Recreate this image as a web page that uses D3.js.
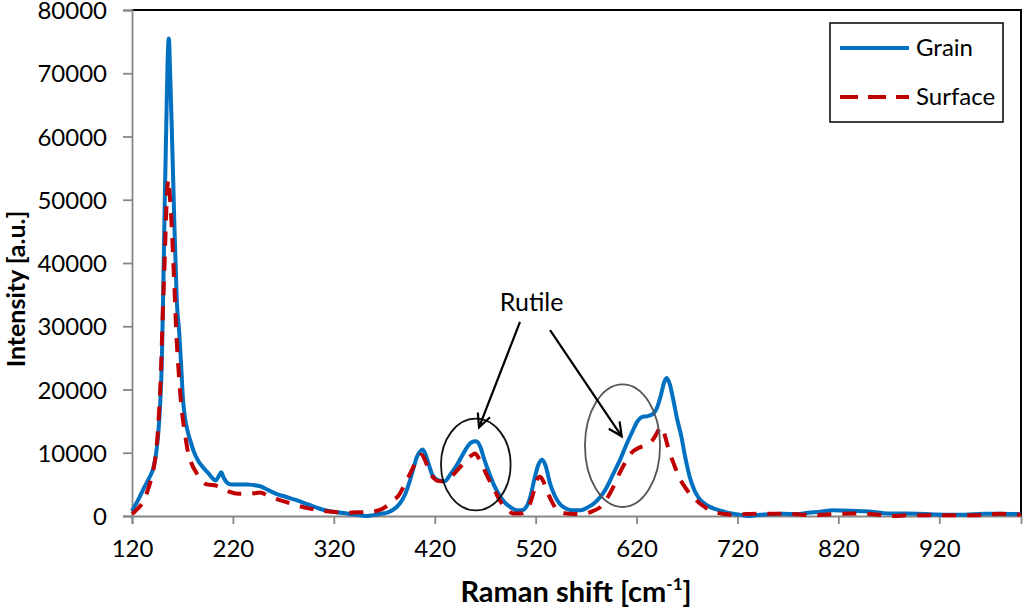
<!DOCTYPE html>
<html>
<head>
<meta charset="utf-8">
<script src="https://cdn.jsdelivr.net/npm/d3@7"></script>
<style>
  html, body { margin: 0; padding: 0; background: #fff; }
  svg { display: block; font-family: Lato, "Open Sans", sans-serif; }
</style>
</head>
<body>
<div id="chart"></div>
<script>
// ---- Data ------------------------------------------------------------------
const grainShift = [
  120, 126, 132, 137, 141, 144, 146, 148, 149.5, 151, 152.5, 154, 155.3, 156.5,
  157.8, 159.3, 161, 162, 163.2, 164.3, 166.9, 169, 170.5, 172.5, 175, 178, 181, 186, 191,
  196, 201, 203, 206, 208.5, 211, 214, 218, 225, 234, 240, 247, 255, 263, 273,
  283, 295, 306, 315, 323, 333, 343, 352, 360, 366, 372, 378, 385, 390, 395, 399,
  402.5, 406, 408, 411, 414, 418, 424, 430, 436, 441, 446, 451, 456, 461, 465,
  469, 474, 479, 484, 489, 495, 501, 506, 511, 515, 519, 523, 526.5, 530, 534,
  539, 544, 550, 557, 565, 571, 578, 584, 590, 597, 604, 610, 616, 621, 626, 631,
  636, 640, 644, 647.5, 650, 653, 656, 660, 664.5, 668, 672.5, 677, 681, 687,
  693, 700, 708, 716, 725, 732, 742, 755, 765, 778, 790, 800, 815, 825, 838, 850,
  865, 880, 898, 915, 931, 945, 964, 980, 1001
];
const grainIntensity = [
  800, 2500, 4500, 6000, 7500, 10000, 13000, 18000, 24000, 36000, 50000, 62000, 72000, 75500,
  70000, 62000, 52000, 46000, 40000, 34500, 28800, 23000, 18500, 15500, 13500, 11800, 10300, 8600, 7600,
  6700, 5800, 5600, 6300, 6900, 6000, 5300, 5000, 5000, 5000, 4900, 4700, 4100, 3500, 3000,
  2500, 1800, 1150, 800, 600, 400, 200, 0, 150, 350, 500, 900, 1900, 3200, 5400, 7600,
  9400, 10300, 10500, 9700, 8200, 6400, 5600, 5500, 6700, 7800, 9200, 10600, 11600, 11800, 11000,
  9000, 6800, 4800, 3300, 2200, 1400, 900, 900, 1500, 3200, 6000, 8200, 8900, 7900, 5300,
  3200, 1900, 1200, 900, 900, 1300, 2000, 3000, 4400, 6700, 9000, 11300, 13400, 15000, 15700, 15800,
  16100, 17000, 19000, 21200, 21800, 20800, 18700, 15500, 12500, 9500, 6300, 4200, 3000, 2000,
  1400, 1000, 600, 350, 150, 0, 200, 300, 350, 300, 500, 650, 900, 850, 800, 700,
  450, 400, 350, 250, 200, 200, 350, 350, 300
];

const surfaceShift = [
  120, 124, 130, 135, 140, 143, 145, 147, 148.5, 150.4, 152.7, 154.3, 156, 157.5,
  159.3, 161, 162.6, 164.2, 165.9, 168, 170, 172.5, 175, 178.5, 184, 189, 194, 200, 207, 212,
  217, 225, 234, 241, 247, 255, 263, 273, 283, 295, 306, 315, 323, 333, 343, 352,
  362, 370, 379, 384, 389, 394, 399, 403, 407, 411, 415.3, 419, 422, 427, 432, 438,
  445, 450, 455, 460, 464, 468, 473, 478, 482, 486.4, 492, 498, 505, 511, 515, 518,
  521, 524, 527, 530, 533, 537, 541, 547, 554, 562, 570, 577, 584, 590, 597, 603,
  610, 615, 620, 626, 630, 634, 638, 642, 645, 648, 651, 654, 658, 662, 667, 673,
  679, 686, 693, 700, 708, 716, 730, 742, 755, 769, 782, 795, 808, 822, 835, 848,
  862, 874, 888, 901, 915, 927, 941, 954, 967, 980, 990, 1001
];
const surfaceIntensity = [
  300, 900, 2000, 3800, 6500, 9000, 12000, 17000, 22000, 31500, 42000, 49500, 53200, 50500,
  46000, 40000, 34000, 28000, 23600, 19000, 15800, 13000, 10500, 8500, 6800, 5800, 5000, 4900, 4600, 4200,
  3800, 3500, 3500, 3600, 3700, 3200, 2700, 2200, 1700, 1200, 900, 700, 600, 500, 600, 600,
  800, 1300, 2500, 3200, 4600, 6200, 7800, 9000, 9700, 8600, 6800, 6000, 5600, 5500, 5800, 6500,
  7700, 8600, 9400, 9900, 9000, 7700, 6000, 4600, 3200, 2000, 1000, 400, 400, 900, 2200, 3800,
  5600, 6200, 5700, 4500, 3300, 2000, 900, 500, 350, 300, 400, 800, 1400, 2600, 4600, 6700,
  8800, 10000, 10600, 11000, 11200, 11600, 12500, 13600, 14100, 12800, 11000, 9500, 7800, 6200, 4800, 3500,
  2500, 1600, 900, 500, 300, 200, 300, 350, 350, 350, 250, 100, 250, 350, 400, 350,
  150, 0, 100, 100, 150, 100, 100, 100, 200, 350, 300, 200
];

const xTicks = [120, 220, 320, 420, 520, 620, 720, 820, 920];
const yTicks = [0, 10000, 20000, 30000, 40000, 50000, 60000, 70000, 80000];
const seriesNames = ["Grain", "Surface"];

// Annotation: "Rutile" label, arrows and ellipses in data units
const rutileLabel = { shift: 516, intensity: 32400, text: "Rutile" };
const rutileArrows = [
  { from: [504.5, 30700], to: [463.9, 14000] },
  { from: [534.3, 29400], to: [605.3, 12600] }
];
const rutileEllipses = [
  { shift: 460.7, intensity: 8130, rShift: 34.5, rInt: 7250, color: "#111" },
  { shift: 606.1, intensity: 11120, rShift: 37.2, rInt: 9700, color: "#555" }
];

// ---- Chart -----------------------------------------------------------------
const width = 1024, height = 611;
const margin = { top: 10, right: 3, bottom: 95, left: 132 };

const svg = d3.select("#chart").append("svg")
  .attr("width", width).attr("height", height)
  .attr("viewBox", `0 0 ${width} ${height}`);

const x = d3.scaleLinear()
  .domain([120, 1001])
  .range([margin.left, width - margin.right]);

const y = d3.scaleLinear()
  .domain([0, 80000])
  .range([height - margin.bottom, margin.top]);

const axisColor = "#868686";

// plot-area frame (top/right in black)
svg.append("path")
  .attr("d", `M${x.range()[0]},${y(80000)}H${x.range()[1]}V${y(0)}`)
  .attr("fill", "none").attr("stroke", "#000").attr("stroke-width", 2);

// axes
const xAxis = d3.axisBottom(x).tickValues(xTicks).tickSize(8).tickPadding(16).tickFormat(d3.format("d"));
const yAxis = d3.axisLeft(y).tickValues(yTicks).tickSize(9).tickPadding(16).tickFormat(d3.format("d"));

const gx = svg.append("g").attr("transform", `translate(0,${y(0)})`).call(xAxis);
const gy = svg.append("g").attr("transform", `translate(${x(120)},0)`).call(yAxis);

[gx, gy].forEach(g => {
  g.select(".domain").attr("stroke", axisColor).attr("stroke-width", 1.8);
  g.selectAll(".tick line").attr("stroke", axisColor).attr("stroke-width", 1.8);
  g.selectAll(".tick text")
    .attr("fill", "#000")
    .attr("font-size", 24)
    .attr("font-family", "Lato, 'Open Sans', sans-serif");
});
gy.selectAll(".tick text").attr("dy", "0.36em");

// series
const grain = grainShift.map((s, i) => ({ s, v: grainIntensity[i] }));
const surface = surfaceShift.map((s, i) => ({ s, v: surfaceIntensity[i] }));

const line = d3.line()
  .x(d => x(d.s))
  .y(d => y(d.v))
  .curve(d3.curveMonotoneX);

svg.append("path")
  .attr("d", line(grain))
  .attr("fill", "none")
  .attr("stroke", "#0070C0")
  .attr("stroke-width", 4)
  .attr("stroke-linejoin", "round");

svg.append("path")
  .attr("d", line(surface))
  .attr("fill", "none")
  .attr("stroke", "#C00000")
  .attr("stroke-width", 4)
  .attr("stroke-dasharray", "14,11");

// annotations
rutileEllipses.forEach(e => {
  svg.append("ellipse")
    .attr("cx", x(e.shift)).attr("cy", y(e.intensity))
    .attr("rx", x(e.shift + e.rShift) - x(e.shift))
    .attr("ry", y(0) - y(e.rInt))
    .attr("fill", "none")
    .attr("stroke", e.color)
    .attr("stroke-width", 1.8);
});

rutileArrows.forEach(a => {
  const x0 = x(a.from[0]), y0 = y(a.from[1]);
  const x1 = x(a.to[0]), y1 = y(a.to[1]);
  const ang = Math.atan2(y1 - y0, x1 - x0);
  const head = 15, spread = Math.PI / 7;
  const p1 = [x1 - head * Math.cos(ang - spread), y1 - head * Math.sin(ang - spread)];
  const p2 = [x1 - head * Math.cos(ang + spread), y1 - head * Math.sin(ang + spread)];
  svg.append("path")
    .attr("d", `M${x0},${y0}L${x1},${y1}M${p1[0]},${p1[1]}L${x1},${y1}L${p2[0]},${p2[1]}`)
    .attr("fill", "none")
    .attr("stroke", "#000")
    .attr("stroke-width", 2.2);
});

svg.append("text")
  .attr("x", x(rutileLabel.shift))
  .attr("y", y(rutileLabel.intensity))
  .attr("text-anchor", "middle")
  .attr("font-size", 25)
  .text(rutileLabel.text);

// axis titles
const xTitle = svg.append("text")
  .attr("x", 576).attr("y", 602)
  .attr("text-anchor", "middle")
  .attr("font-size", 29)
  .attr("font-weight", "bold");
xTitle.append("tspan").text("Raman shift [cm");
xTitle.append("tspan").attr("font-size", 17).attr("dy", -12).text("-1");
xTitle.append("tspan").attr("dy", 12).text("]");

svg.append("text")
  .attr("transform", "translate(25,289) rotate(-90)")
  .attr("text-anchor", "middle")
  .attr("font-size", 25)
  .attr("font-weight", "bold")
  .text("Intensity [a.u.]");

// legend
const legend = svg.append("g").attr("transform", "translate(830,23)");
legend.append("rect")
  .attr("width", 173).attr("height", 99)
  .attr("fill", "#fff").attr("stroke", "#000").attr("stroke-width", 1.5);

const legendStyles = [
  { color: "#0070C0", dash: null },
  { color: "#C00000", dash: "18,10" }
];
seriesNames.forEach((name, i) => {
  const ly = 25 + i * 49;
  legend.append("line")
    .attr("x1", 10).attr("x2", 79).attr("y1", ly).attr("y2", ly)
    .attr("stroke", legendStyles[i].color)
    .attr("stroke-width", 4)
    .attr("stroke-dasharray", legendStyles[i].dash);
  legend.append("text")
    .attr("x", 86).attr("y", ly + 8)
    .attr("font-size", 24)
    .text(name);
});
</script>
</body>
</html>
